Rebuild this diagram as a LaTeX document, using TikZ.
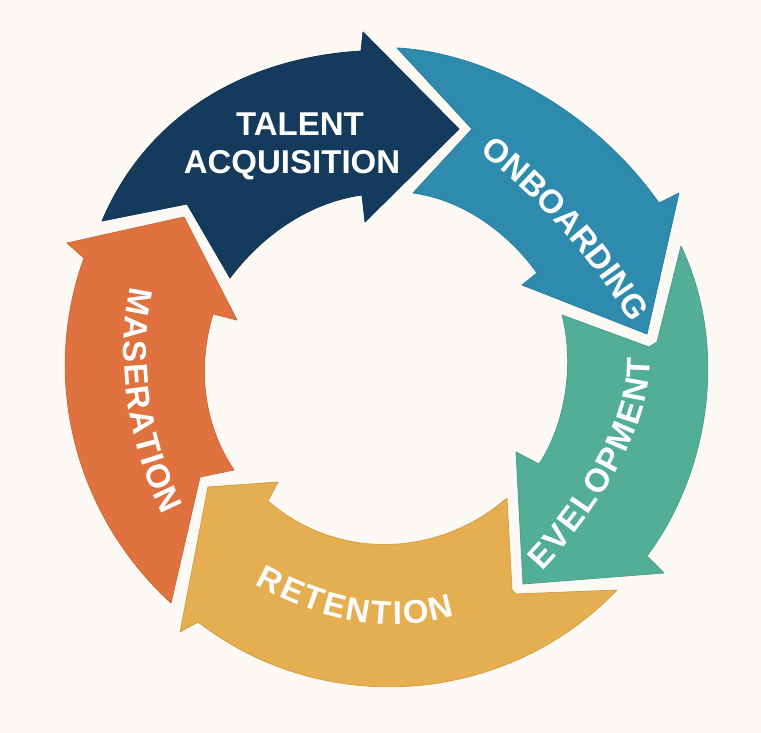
\documentclass[tikz,border=0pt]{standalone}
\usepackage{fontspec}
\setmainfont{Liberation Sans}
\usetikzlibrary{decorations.text}
\definecolor{bgcream}{HTML}{FDFAF5}
\definecolor{navyc}{HTML}{143A5C}
\definecolor{tealc}{HTML}{2E8BAE}
\definecolor{greenc}{HTML}{52AE97}
\definecolor{yellowc}{HTML}{E5AE50}
\definecolor{orangec}{HTML}{DF723F}
\newcommand{\ringfont}{\bfseries\fontsize{33}{36}\selectfont\color{white}}
\tikzset{
  segment/.style={fill=#1,draw=#1!92!black,line width=0.8pt,line join=round},
  ringlabel/.style={decorate,decoration={text along path,text align=fit to path,text={|\ringfont|#1}}},
  titlelabel/.style={text=white,font=\bfseries\fontsize{33}{36}\selectfont,inner sep=0pt,anchor=base}
}
\begin{document}
\begin{tikzpicture}[x=1pt,y=-1pt]
\fill[bgcream] (0,0) rectangle (761,733);
\draw[segment=navyc] (459,129) -- (363,32) -- (361,51) .. controls (245,58) and (147,115) .. (102,221)
  -- (187,204) -- (230,278) .. controls (262,235) and (310,202) .. (362,195) -- (365,222) -- cycle;
\draw[segment=tealc] (397,48) .. controls (480,52) and (590,105) .. (659,203) -- (679,193) -- (647,334)
  -- (522,285) -- (537,273) .. controls (510,235) and (465,200) .. (413,193) -- (472,129) -- cycle;
\draw[segment=greenc] (681,246) .. controls (728,345) and (711,470) .. (647,556) -- (664,573) -- (523,584)
  -- (516,452) -- (539,464) .. controls (565,425) and (575,365) .. (562,315) -- (649,347) -- (657,342) -- cycle;
\draw[segment=yellowc] (208,487) -- (278,482) -- (268,501) .. controls (337,561) and (438,558) .. (507,498)
  -- (512,590) -- (516,594) -- (617,590) .. controls (507,705) and (325,720) .. (198,622) -- (180,632) -- cycle;
\draw[segment=orangec] (67,243) -- (184,217) -- (237,320) -- (213,314) .. controls (197,367) and (203,424) .. (234,470)
  -- (200,477) -- (171,603) .. controls (75,515) and (40,380) .. (84,258) -- cycle;
\node[titlelabel] (talent) at (300,136) {TALENT};
\node[titlelabel] (acquisition) at (292,174) {ACQUISITION};
\path[ringlabel=ONBOARDING] (479,153) .. controls (530,190) and (590,255) .. (630,322);
\path[ringlabel=EVELOPMENT] (542,571) .. controls (595,515) and (652,430) .. (650,358);
\path[ringlabel=RETENTION] (255,584) .. controls (320,620) and (390,636) .. (455,616);
\path[ringlabel=MASERATION] (131,287) .. controls (116,345) and (124,440) .. (163,515);
\end{tikzpicture}
\end{document}
